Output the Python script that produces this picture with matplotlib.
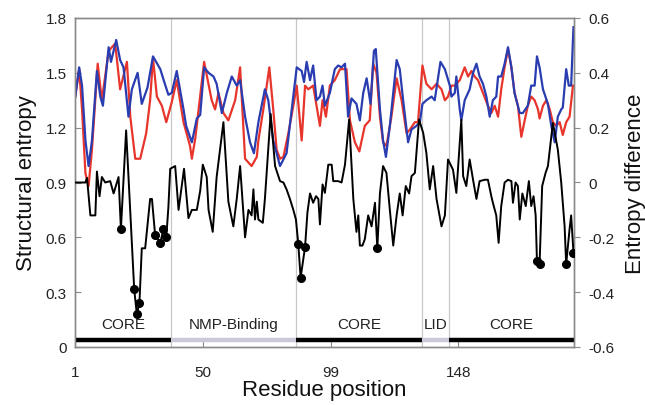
import matplotlib
matplotlib.use("Agg")
import matplotlib.pyplot as plt

plt.rcParams['font.family'] = ['Liberation Sans', 'DejaVu Sans']

# ---- data ----
blue_x = [1.1, 2.6, 3.7, 5.0, 6.2, 7.5, 9.4, 10.7, 11.7, 13.9, 14.8, 16.8, 18.3, 19.6, 21.5, 22.8,
          25.0, 26.6, 28.8, 30.9, 33.7, 35.0, 36.8, 38.1, 40.0, 42.6, 43.6, 45.8, 47.7, 49.0, 50.5,
          52.2, 54.1, 55.3, 57.3, 59.2, 61.1, 63.0, 64.3, 66.2, 68.1, 69.6, 71.3, 73.8, 75.1, 77.0,
          79.6, 82.1, 84.1, 86.0, 87.9, 88.8, 89.8, 91.1, 92.3, 93.6, 94.9, 95.9, 96.8, 98.7, 100.6,
          101.9, 103.2, 104.5, 105.7, 107.0, 108.9, 110.2, 111.5, 112.8, 114.3, 115.6, 116.3, 117.9,
          119.1, 120.2, 121.7, 124.3, 125.5, 126.8, 128.7, 130.0, 131.9, 133.2, 134.2, 135.7, 137.7,
          138.9, 141.1, 142.8, 144.7, 145.3, 146.6, 147.2, 148.5, 149.1, 150.4, 152.3, 153.6, 154.9,
          156.1, 157.4, 158.7, 160.0, 161.2, 162.5, 163.2, 164.4, 165.7, 167.0, 168.3, 169.5, 171.5,
          172.7, 174.6, 175.9, 177.2, 178.1, 179.1, 180.4, 182.3, 183.6, 184.9, 186.1, 187.4, 188.0,
          189.3, 190.3, 191.2, 192.1]
blue_y = [1.37, 1.53, 1.43, 1.13, 0.99, 1.13, 1.51, 1.37, 1.32, 1.64, 1.56, 1.68, 1.57, 1.53, 1.26, 1.41,
          1.50, 1.33, 1.42, 1.59, 1.52, 1.46, 1.38, 1.39, 1.51, 1.30, 1.21, 1.12, 1.25, 1.27, 1.53,
          1.50, 1.48, 1.44, 1.28, 1.39, 1.48, 1.43, 1.46, 1.26, 1.12, 1.06, 1.23, 1.41, 1.35, 1.13,
          0.99, 1.06, 1.30, 1.53, 1.51, 1.45, 1.56, 1.46, 1.54, 1.35, 1.37, 1.43, 1.32, 1.39, 1.52,
          1.54, 1.53, 1.55, 1.26, 1.36, 1.33, 1.24, 1.39, 1.47, 1.33, 1.62, 1.63, 1.30,
          1.13, 1.04, 1.21, 1.57, 1.52, 1.35, 1.12, 1.19, 1.21, 1.23, 1.33, 1.35, 1.37,
          1.35, 1.56, 1.52, 1.43, 1.37, 1.39, 1.48, 1.30, 1.24, 1.35, 1.41, 1.50, 1.55,
          1.48, 1.44, 1.37, 1.26, 1.35, 1.37, 1.48, 1.48, 1.55, 1.64, 1.53, 1.39, 1.28,
          1.28, 1.32, 1.43, 1.43, 1.59, 1.53, 1.41, 1.33, 1.21, 1.12, 1.26, 1.30, 1.31,
          1.52, 1.43, 1.43, 1.75]

red_x = [1.1, 2.6, 3.7, 5.0, 6.2, 7.5, 9.7, 11.3, 13.9, 16.4, 18.3, 20.9, 22.2, 24.1, 26.0, 28.3,
         29.8, 30.9, 32.4, 34.3, 36.0, 38.1, 40.0, 42.6, 45.1, 45.8, 47.1, 50.5, 53.4, 54.7, 56.0,
         57.9, 59.8, 62.4, 64.3, 66.2, 68.7, 70.7, 71.3, 73.2, 75.5, 77.0, 78.3, 79.6, 80.9, 82.8,
         84.7, 86.0, 87.9, 89.2, 90.4, 92.3, 93.6, 94.9, 95.9, 97.2, 98.7, 100.6, 102.6, 105.1,
         106.4, 108.3, 110.0, 112.1, 114.0, 115.3, 116.6, 117.9, 119.1, 120.4, 122.3, 124.3, 126.2,
         128.1, 129.4, 131.3, 132.5, 134.2, 135.7, 137.7, 139.6, 141.5, 142.8, 144.0, 145.3, 146.6,
         148.5, 150.4, 151.7, 153.0, 154.2, 155.5, 157.4, 159.3, 160.6, 161.9, 163.2, 164.4, 165.7,
         167.0, 168.3, 169.5, 170.8, 172.1, 173.4, 174.6, 175.9, 177.2, 178.5, 179.1, 180.4, 181.7,
         183.0, 184.2, 185.5, 186.8, 188.0, 189.3, 190.6, 191.9]
red_y = [1.37, 1.52, 1.30, 0.95, 0.88, 1.08, 1.55, 1.35, 1.62, 1.66, 1.41, 1.56, 1.26, 1.03, 1.03, 1.17,
         1.35, 1.58, 1.37, 1.32, 1.23, 1.34, 1.46, 1.23, 1.10, 1.03, 1.14, 1.56, 1.35, 1.30, 1.39,
         1.28, 1.24, 1.35, 1.53, 1.03, 0.99, 1.04, 1.13, 1.30, 1.53, 1.30, 1.08, 1.03, 1.04, 1.17,
         1.32, 1.43, 1.13, 1.43, 1.41, 1.43, 1.32, 1.21, 1.35, 1.26, 1.43, 1.46, 1.52, 1.52,
         1.24, 1.12, 1.07, 1.21, 1.24, 1.55, 1.50, 1.26, 1.12, 1.10, 1.26, 1.47, 1.35,
         1.17, 1.19, 1.23, 1.23, 1.54, 1.44, 1.41, 1.44, 1.41, 1.35, 1.37, 1.43, 1.43,
         1.46, 1.53, 1.48, 1.51, 1.48, 1.46, 1.39, 1.32, 1.28, 1.32, 1.26, 1.41, 1.53,
         1.63, 1.53, 1.39, 1.32, 1.15, 1.24, 1.32, 1.37, 1.35, 1.30, 1.25, 1.32, 1.35,
         1.30, 1.23, 1.21, 1.23, 1.16, 1.23, 1.26, 1.43]

diff_x = [1.0, 5.0, 5.6, 6.9, 8.8, 9.4, 10.4, 11.3, 12.6, 14.5, 15.8, 17.7, 18.6, 20.6, 23.7, 24.7,
          25.7, 26.6, 27.9, 29.8, 30.5, 31.7, 33.7, 34.9, 36.0, 36.8, 37.5, 39.4, 40.7, 42.8, 44.5,
          45.8, 47.7, 49.0, 50.0, 51.5, 52.2, 53.8, 55.3, 57.9, 59.8, 61.7, 63.0, 64.3, 66.2, 67.5,
          68.7, 69.4, 70.0, 70.7, 71.3, 73.0, 73.8, 76.0, 77.7, 79.6, 80.9, 82.1, 83.4, 84.7, 85.7,
          86.6, 87.5, 89.2, 90.1, 91.1, 92.3, 93.4, 94.3, 94.9, 95.9, 96.8, 98.1, 99.4, 100.0, 101.9,
          103.2, 104.5, 106.1, 107.7, 108.9, 109.6, 110.2, 111.2, 112.1, 113.4, 114.7, 116.0, 116.9,
          117.9, 119.1, 120.4, 121.7, 123.0, 124.3, 125.5, 126.6, 127.8, 129.1, 130.0, 131.3, 132.9,
          134.5, 135.7, 137.0, 138.3, 139.6, 141.5, 142.8, 144.0, 145.9, 147.2, 149.1, 149.8, 151.0,
          152.3, 153.6, 154.9, 156.1, 158.1, 159.3, 160.6, 161.2, 162.5, 163.4, 164.4, 165.7, 167.0,
          168.3, 168.9, 169.9, 170.8, 171.5, 172.5, 173.8, 175.0, 175.9, 176.8, 177.6, 178.1, 179.1,
          180.1, 181.4, 182.3, 184.2, 186.1, 187.4, 188.7, 189.3, 190.6, 191.2, 192.1]
diff_y = [0.0, 0.0, 0.017, -0.12, -0.12, 0.04, -0.05, 0.02, 0.0, 0.005, -0.04, 0.02, -0.17, 0.19, -0.39, -0.48,
          -0.44, -0.24, -0.24, -0.06, -0.06, -0.19, -0.22, -0.17, -0.20, -0.09, 0.05, 0.06, -0.10, 0.05, -0.13,
          -0.10, -0.10, -0.03, 0.065, 0.02, -0.10, -0.18, 0.02, 0.22, -0.07, -0.16, -0.06, 0.06, -0.20, -0.10,
          -0.12, -0.025, -0.135, -0.07, -0.135, -0.147, -0.06, 0.25, 0.06, 0.005, 0.0, -0.025, -0.06, -0.10, -0.135,
          -0.225, -0.347, -0.235, -0.11, -0.04, -0.074, -0.05, -0.06, -0.153, -0.007, -0.038, 0.065, 0.065, 0.005, 0.005,
          0.0, 0.065, 0.23, -0.06, -0.18, -0.12, -0.23, -0.23, -0.207, -0.12, -0.16, -0.074, -0.24,
          -0.04, 0.06, 0.035, -0.10, -0.23, -0.12, -0.04, -0.12, -0.013, -0.04, 0.023, 0.035, 0.23,
          0.18, 0.108, -0.025, 0.06, -0.06, -0.16, -0.12, 0.084, 0.047, -0.038, 0.229, 0.023, -0.013,
          0.084, 0.01, -0.06, 0.005, 0.01, 0.01, -0.05, -0.074, -0.12, -0.22, -0.086, 0.0, 0.01,
          0.005, -0.074, 0.0, -0.013, -0.135, -0.04, -0.086, 0.005, -0.086, -0.05, -0.12, -0.286, -0.298,
          -0.013, 0.035, 0.06, 0.217, 0.12, 0.0, -0.16, -0.298, -0.17, -0.12, -0.256]

dot_x = [18.6, 23.7, 24.7, 25.7, 31.7, 33.7, 34.9, 36.0, 86.6, 87.5, 89.2, 116.9, 178.1, 179.1, 189.3, 192.1]
dot_y = [-0.17, -0.39, -0.48, -0.44, -0.19, -0.22, -0.17, -0.20, -0.225, -0.347, -0.235, -0.24, -0.286, -0.298, -0.298, -0.256]

domain_names = ['CORE', 'NMP-Binding', 'CORE', 'LID', 'CORE']
domain_start = [1, 37.75, 85.8, 134.0, 144.3]
domain_end = [37.75, 85.8, 134.0, 144.3, 192.3]
domain_is_core = [True, False, True, False, True]

x_ticks = [1, 50, 99, 148]
left_ticks = [0, 0.3, 0.6, 0.9, 1.2, 1.5, 1.8]
left_labels = ['0', '0.3', '0.6', '0.9', '1.2', '1.5', '1.8']
right_ticks = [-0.6, -0.4, -0.2, 0, 0.2, 0.4, 0.6]
right_labels = ['-0.6', '-0.4', '-0.2', '0', '0.2', '0.4', '0.6']

# ---- figure ----
fig = plt.figure(figsize=(6.45, 4.06), dpi=100)
ax = fig.add_axes([75/645, 1-348/406, (574-75)/645, (348-19)/406])
ax.set_xlim(1, 192.3)
ax.set_ylim(0, 1.8)

spine_c = '#8a8a8a'
for s in ax.spines.values():
    s.set_color(spine_c)
    s.set_linewidth(1.0)

# domain boundaries
for b in domain_start[1:]:
    ax.axvline(b, color='#c8c8c8', lw=0.9, zorder=1)

# domain bars and labels
for name, s, e, core in zip(domain_names, domain_start, domain_end, domain_is_core):
    ax.plot([s, e], [0.04, 0.04], color='black' if core else '#c9c9d9', lw=3.2,
            solid_capstyle='butt', zorder=3)
    ax.text((s + e) / 2, 0.125, name, ha='center', va='center', fontsize=11, color='#222222')

ax.plot(red_x, red_y, color='#e8352c', lw=1.6, zorder=4)
ax.plot(blue_x, blue_y, color='#2a3db0', lw=1.6, zorder=5)

ax.set_xticks(x_ticks)
ax.set_xticklabels([str(t) for t in x_ticks])
ax.set_yticks(left_ticks)
ax.set_yticklabels(left_labels)
ax.tick_params(axis='both', direction='in', length=4, color=spine_c, labelsize=11,
               labelcolor='#222222')
ax.tick_params(axis='x', pad=13)
ax.tick_params(axis='y', pad=6)
ax.set_xlabel('Residue position', fontsize=16, labelpad=0, color='#111111')
ax.set_ylabel('Structural entropy', fontsize=16, labelpad=6, color='#111111')

ax2 = ax.twinx()
ax2.set_ylim(-0.6, 0.6)
for s in ax2.spines.values():
    s.set_color(spine_c)
    s.set_linewidth(1.0)
ax2.plot(diff_x, diff_y, color='black', lw=1.4, zorder=6)
ax2.plot(dot_x, dot_y, 'o', color='black', ms=5.5, zorder=7)
ax2.set_yticks(right_ticks)
ax2.set_yticklabels(right_labels)
ax2.tick_params(axis='y', direction='out', length=4, color=spine_c, labelsize=11,
                labelcolor='#222222', pad=6)
ax2.set_ylabel('Entropy difference', fontsize=16, labelpad=8, color='#111111')

fig.savefig('out.png', dpi=100)
